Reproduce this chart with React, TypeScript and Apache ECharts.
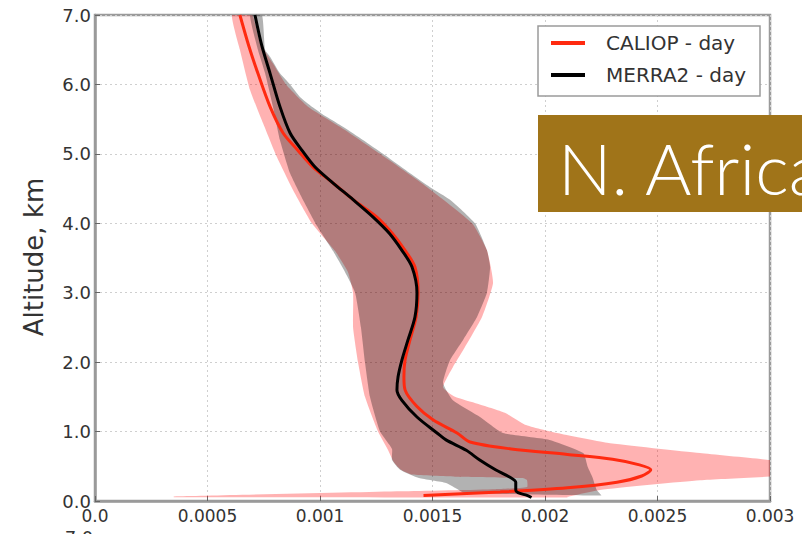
import React, { useEffect, useRef } from "react";
import * as echarts from "echarts";

// Tick labels
const xTickLabels = ["0.0", "0.0005", "0.001", "0.0015", "0.002", "0.0025", "0.003"];
const yTickLabels = ["0.0", "1.0", "2.0", "3.0", "4.0", "5.0", "6.0", "7.0"];

const seriesNames = ["CALIOP - day", "MERRA2 - day"];

// Mean profiles [extinction, altitude km]
const caliopMean: number[][] = [
  [0.00146, 0.08], [0.0018, 0.13], [0.0021, 0.19], [0.00232, 0.27], [0.00243, 0.36],
  [0.00247, 0.45], [0.00242, 0.52], [0.0023, 0.6], [0.0021, 0.67], [0.00185, 0.75],
  [0.001667, 0.85], [0.001609, 0.98], [0.001502, 1.17], [0.001431, 1.36], [0.001378, 1.6],
  [0.001373, 1.79], [0.001378, 2.03], [0.0014, 2.32], [0.001427, 2.65], [0.001436, 3.0],
  [0.001422, 3.37], [0.001378, 3.61], [0.00132, 3.86], [0.001253, 4.09], [0.001147, 4.34],
  [0.001058, 4.58], [0.000969, 4.81], [0.000902, 5.05], [0.000836, 5.3], [0.000778, 5.68],
  [0.000724, 6.16], [0.000684, 6.55], [0.000644, 7.0],
];

const merraMean: number[][] = [
  [0.00194, 0.05], [0.00192, 0.08], [0.00188, 0.12], [0.00187, 0.16], [0.00187, 0.27],
  [0.00184, 0.35], [0.00178, 0.45], [0.00171, 0.59], [0.00165, 0.73], [0.00156, 0.88],
  [0.00152, 0.98], [0.001431, 1.21], [0.001364, 1.45], [0.001342, 1.6], [0.001347, 1.79],
  [0.001364, 2.03], [0.001391, 2.32], [0.001422, 2.65], [0.001431, 3.0], [0.001409, 3.37],
  [0.001364, 3.61], [0.001307, 3.86], [0.001236, 4.09], [0.001147, 4.34], [0.001058, 4.58],
  [0.000978, 4.81], [0.00092, 5.05], [0.000867, 5.3], [0.000822, 5.68], [0.000778, 6.16],
  [0.000742, 6.55], [0.000711, 7.0],
];

// Spread bands: lower edge (bottom -> top), upper edge (top -> bottom)
const caliopBandLow: number[][] = [
  [0.00035, 0.055], [0.00035, 0.065], [0.00136, 0.14], [0.00178, 0.17], [0.00192, 0.2],
  [0.00192, 0.3], [0.0019, 0.33], [0.0016, 0.35], [0.00141, 0.38], [0.00136, 0.45],
  [0.00133, 0.55], [0.0013, 0.75], [0.001258, 1.0], [0.0012, 1.5], [0.001169, 2.0],
  [0.001147, 2.5], [0.001147, 3.0], [0.001124, 3.3], [0.001067, 3.6], [0.000964, 4.0],
  [0.00088, 4.48], [0.000809, 4.95], [0.000747, 5.44], [0.000689, 5.92], [0.000644, 6.5],
  [0.000609, 7.0],
];
const caliopBandHigh: number[][] = [
  [0.000698, 7.0], [0.000733, 6.6], [0.000791, 6.3], [0.000849, 6.0], [0.000947, 5.68],
  [0.001089, 5.39], [0.001267, 5.0], [0.001476, 4.52], [0.001676, 4.0], [0.001742, 3.61],
  [0.001769, 3.14], [0.00172, 2.65], [0.001636, 2.17], [0.001591, 1.93], [0.001547, 1.64],
  [0.0016, 1.5], [0.0017, 1.4], [0.001822, 1.27], [0.001911, 1.1], [0.002053, 0.98],
  [0.002276, 0.84], [0.002689, 0.69], [0.003, 0.59], [0.0034, 0.45], [0.0033, 0.4],
  [0.002689, 0.3], [0.002244, 0.16], [0.0021, 0.06], [0.0021, 0.05],
];

const merraBandLow: number[][] = [
  [0.00164, 0.12], [0.0016, 0.19], [0.00156, 0.26], [0.00144, 0.33], [0.001356, 0.45],
  [0.00132, 0.59], [0.00132, 0.75], [0.001267, 1.0], [0.001222, 1.5], [0.0012, 2.0],
  [0.001182, 2.5], [0.001156, 3.0], [0.001111, 3.3], [0.001058, 3.6], [0.000987, 3.96],
  [0.000924, 4.34], [0.000867, 4.72], [0.000822, 5.2], [0.000791, 5.68], [0.000756, 6.16],
  [0.000724, 6.5], [0.000689, 7.0],
];
const merraBandHigh: number[][] = [
  [0.000742, 7.0], [0.000756, 6.5], [0.000778, 6.4], [0.000822, 6.16], [0.000867, 6.0],
  [0.000911, 5.82], [0.000964, 5.68], [0.001031, 5.53], [0.001102, 5.39], [0.001191, 5.2],
  [0.00128, 5.0], [0.0014, 4.72], [0.001489, 4.52], [0.001578, 4.34], [0.001689, 4.0],
  [0.001742, 3.61], [0.001756, 3.37], [0.001742, 3.0], [0.001698, 2.65], [0.001636, 2.32],
  [0.001578, 2.03], [0.001547, 1.7], [0.001591, 1.45], [0.001711, 1.21], [0.001813, 0.98],
  [0.00202, 0.88], [0.00217, 0.69], [0.00219, 0.49], [0.00221, 0.35], [0.00223, 0.16],
  [0.00225, 0.08],
];

const FONT = "DejaVu Sans";

function bandSeries(name: string, low: number[][], high: number[][], color: string, z: number) {
  const pts = low.concat(high);
  return {
    type: "custom",
    name: name + " band",
    clip: true,
    z,
    silent: true,
    data: [0],
    encode: {},
    renderItem: (params: any, api: any) => {
      const points = pts.map((p) => api.coord(p));
      const cs = params.coordSys;
      return {
        type: "polygon",
        shape: { points, smooth: 0.15 },
        style: { fill: color, stroke: null },
        clipPath: { type: "rect", shape: { x: cs.x, y: cs.y, width: cs.width, height: cs.height } },
      };
    },
  };
}

export default function App() {
  const ref = useRef<HTMLDivElement>(null);
  useEffect(() => {
    if (!ref.current) return;
    const chart = echarts.init(ref.current, null, { renderer: "svg" });
    const option: any = {
      animation: false,
      backgroundColor: "#ffffff",
      grid: {
        left: 95, right: 32, top: 15, bottom: 33,
        show: true, borderColor: "#9a9a9a", borderWidth: 2.5, backgroundColor: "transparent",
      },
      legend: {
        orient: "vertical",
        left: 538, top: 26,
        padding: [7, 14, 11, 13],
        itemWidth: 34, itemHeight: 4, itemGap: 12,
        backgroundColor: "#ffffff",
        borderColor: "#9a9a9a", borderWidth: 1.5,
        textStyle: { fontFamily: FONT, fontSize: 20, color: "#333", lineHeight: 20, padding: [0, 0, 0, 16] },
        data: [
          { name: seriesNames[0], icon: "rect", itemStyle: { color: "#ff2a10" } },
          { name: seriesNames[1], icon: "rect", itemStyle: { color: "#000000" } },
        ],
        z: 20,
      },
      xAxis: {
        type: "value", min: 0, max: 0.003, interval: 0.0005,
        axisLine: { show: true, lineStyle: { color: "#9a9a9a", width: 2.5 } },
        axisTick: { show: true, inside: true, length: 5, lineStyle: { color: "#666" } },
        axisLabel: {
          fontFamily: FONT, fontSize: 17, color: "#333", margin: 6,
          formatter: (v: number) => xTickLabels[Math.round(v / 0.0005)] ?? "",
        },
        splitLine: { show: true, lineStyle: { color: "#cfcfcf", type: [2, 3], width: 1 } },
      },
      yAxis: {
        type: "value", min: 0, max: 7, interval: 1,
        axisLine: { show: true, lineStyle: { color: "#9a9a9a", width: 2.5 } },
        axisTick: { show: true, inside: true, length: 5, lineStyle: { color: "#666" } },
        axisLabel: {
          fontFamily: FONT, fontSize: 18, color: "#333", margin: 4,
          formatter: (v: number) => yTickLabels[Math.round(v)] ?? "",
        },
        splitLine: { show: true, lineStyle: { color: "#cfcfcf", type: [2, 3], width: 1 } },
      },
      series: [
        bandSeries(seriesNames[0], caliopBandLow, caliopBandHigh, "rgba(255,0,0,0.3)", 1),
        bandSeries(seriesNames[1], merraBandLow, merraBandHigh, "rgba(0,0,0,0.3)", 2),
        {
          type: "line", name: seriesNames[0], data: caliopMean, symbol: "none", smooth: 0.3,
          lineStyle: { color: "#ff2a10", width: 3 }, itemStyle: { color: "#ff2a10" }, z: 3,
        },
        {
          type: "line", name: seriesNames[1], data: merraMean, symbol: "none", smooth: 0.3,
          lineStyle: { color: "#000000", width: 3 }, itemStyle: { color: "#000000" }, z: 4,
        },
      ],
      graphic: [
        {
          type: "text", x: 34, y: 257, rotation: Math.PI / 2,
          style: {
            text: "Altitude, km", fontFamily: FONT, fontSize: 26, fill: "#333",
            textAlign: "center", textVerticalAlign: "middle",
          },
        },
        {
          type: "text", x: 79, y: 528,
          style: { text: "7.0", fontFamily: FONT, fontSize: 18, fill: "#333", textAlign: "center", textVerticalAlign: "top" },
        },
        {
          type: "rect", shape: { x: 538, y: 115, width: 280, height: 97 }, z: 100,
          style: { fill: "#a07419" },
        },
        {
          type: "text", x: 558, y: 167, z: 101,
          style: {
            text: "N. Africa", fontFamily: "Lato", fontWeight: 300, fontSize: 71, fill: "#ffffff",
            textAlign: "left", textVerticalAlign: "middle",
          },
        },
      ],
    };
    chart.setOption(option);
    return () => chart.dispose();
  }, []);
  return (
    <div
      ref={ref}
      style={{ position: "fixed", left: 0, top: 0, width: 802, height: 534, background: "#fff" }}
    />
  );
}
